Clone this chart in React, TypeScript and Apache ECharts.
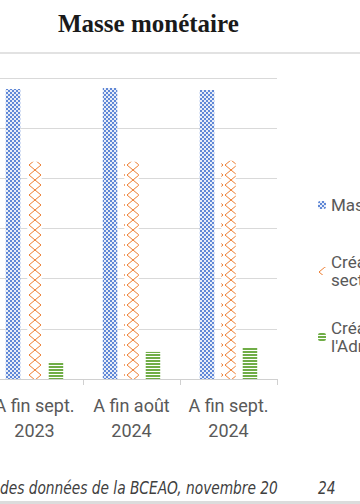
import React, { useEffect, useRef } from "react";
import * as echarts from "echarts";

const categories = ["A fin sept.\n2023", "A fin août\n2024", "A fin sept.\n2024"];
const masseMonetaire = [5780, 5800, 5760];
const creancesSecteur = [4330, 4330, 4350];
const creancesAdmin = [340, 540, 620];
const yTicks = [0, 1000, 2000, 3000, 4000, 5000, 6000];

const seriesNames = [
  "Masse monétaire",
  "Créances sur le secteur privé",
  "Créances nettes sur l'Administration Centrale",
];
const legendLabels: Record<string, string> = {
  "Masse monétaire": "Masse monétaire",
  "Créances sur le secteur privé": "Créances sur le\nsecteur privé",
  "Créances nettes sur l'Administration Centrale": "Créances nettes sur\nl'Administration Centrale",
};

const SHIFT = 14; // the chart div starts 14px left of the page

function makeCanvas(w: number, h: number, draw: (ctx: CanvasRenderingContext2D) => void) {
  const c = document.createElement("canvas");
  c.width = w;
  c.height = h;
  const ctx = c.getContext("2d")!;
  draw(ctx);
  return c;
}

export default function App() {
  const ref = useRef<HTMLDivElement>(null);
  useEffect(() => {
    if (!ref.current) return;
    const chart = echarts.init(ref.current, null, { renderer: "svg" });

    const bluePat = makeCanvas(4, 4, (ctx) => {
      ctx.fillStyle = "#e8edf8";
      ctx.fillRect(0, 0, 4, 4);
      ctx.fillStyle = "#6088d6";
      ctx.fillRect(0, 0, 2, 2);
      ctx.fillRect(2, 2, 2, 2);
    });
    const orangePat = makeCanvas(14, 10, (ctx) => {
      ctx.fillStyle = "#ffffff";
      ctx.fillRect(0, 0, 14, 10);
      ctx.strokeStyle = "#ED7D31";
      ctx.lineWidth = 1;
      ctx.beginPath();
      ctx.moveTo(1, 5);
      ctx.lineTo(7, 0);
      ctx.lineTo(13, 5);
      ctx.lineTo(7, 10);
      ctx.closePath();
      ctx.stroke();
    });
    const greenPat = makeCanvas(4, 3, (ctx) => {
      ctx.fillStyle = "#ffffff";
      ctx.fillRect(0, 0, 4, 3);
      ctx.fillStyle = "#70AD47";
      ctx.fillRect(0, 0, 4, 2);
    });

    const pats = [bluePat, orangePat, greenPat];
    const datas = [masseMonetaire, creancesSecteur, creancesAdmin];

    const legendText = {
      fontFamily: "Roboto",
      fontSize: 17,
      color: "#595959",
      lineHeight: 18,
    };

    chart.setOption({
      animation: false,
      title: {
        text: "Masse monétaire",
        left: 53 + SHIFT,
        top: 6,
        textStyle: {
          fontFamily: "'Liberation Serif', serif",
          fontWeight: "bold",
          fontSize: 25,
          color: "#1a1a1a",
        },
      },
      legend: [
        {
          data: [seriesNames[0]],
          orient: "vertical",
          left: 313 + SHIFT,
          top: 191,
          itemWidth: 8,
          itemHeight: 8,
          formatter: (n: string) => legendLabels[n],
          textStyle: legendText,
        },
        {
          data: [seriesNames[1], seriesNames[2]],
          orient: "vertical",
          left: 313 + SHIFT,
          top: 239,
          itemGap: 12,
          itemWidth: 8,
          itemHeight: 8,
          formatter: (n: string) => legendLabels[n],
          textStyle: { ...legendText, padding: [18, 0, 0, 0] },
        },
      ],
      grid: { left: 0, right: 83, top: 78, bottom: 125, containLabel: false },
      xAxis: {
        type: "category",
        data: categories,
        axisLine: { lineStyle: { color: "#d0d0d0", width: 1 } },
        axisTick: { show: true, length: 6, lineStyle: { color: "#d0d0d0" } },
        axisLabel: {
          interval: 0,
          fontFamily: "Roboto",
          fontSize: 18,
          color: "#595959",
          lineHeight: 25,
          margin: 14,
        },
      },
      yAxis: {
        type: "value",
        min: yTicks[0],
        max: yTicks[yTicks.length - 1],
        interval: yTicks[1] - yTicks[0],
        axisLabel: { show: false },
        axisLine: { show: false },
        axisTick: { show: false },
        splitLine: { lineStyle: { color: "#d9d9d9", width: 1 } },
      },
      series: seriesNames.map((name, i) => ({
        name,
        type: "bar",
        data: datas[i].map((v, j) =>
          i === 1
            ? {
                value: v,
                itemStyle: {
                  color: { image: pats[i], repeat: "repeat", x: 41 + 97 * j, y: 0 },
                },
              }
            : v
        ),
        barWidth: 14.5,
        barGap: "48%",
        itemStyle: { color: { image: pats[i], repeat: "repeat" } },
      })),
      graphic: [
        {
          type: "line",
          shape: { x1: 0, y1: 53, x2: 380, y2: 53 },
          style: { stroke: "#d9d9d9", lineWidth: 1.5 },
        },
        {
          type: "line",
          shape: { x1: 0, y1: 502.5, x2: 380, y2: 502.5 },
          style: { stroke: "#dcdcdc", lineWidth: 3 },
        },
        {
          type: "text",
          x: SHIFT,
          y: 488,
          scaleX: 0.9,
          style: {
            text: "des données de la BCEAO, novembre 20",
            fontFamily: "'Liberation Sans Narrow', 'DejaVu Sans Condensed', sans-serif",
            fontStyle: "italic",
            fontSize: 17,
            fill: "#404040",
            verticalAlign: "middle",
          },
        },
        {
          type: "text",
          x: 318 + SHIFT,
          y: 488,
          scaleX: 0.9,
          style: {
            text: "24",
            fontFamily: "'Liberation Sans Narrow', 'DejaVu Sans Condensed', sans-serif",
            fontStyle: "italic",
            fontSize: 17,
            fill: "#404040",
            verticalAlign: "middle",
          },
        },
      ],
    });
    return () => chart.dispose();
  }, []);
  return (
    <div
      ref={ref}
      style={{ position: "absolute", left: -SHIFT, top: 0, width: 360 + SHIFT, height: 504 }}
    />
  );
}
